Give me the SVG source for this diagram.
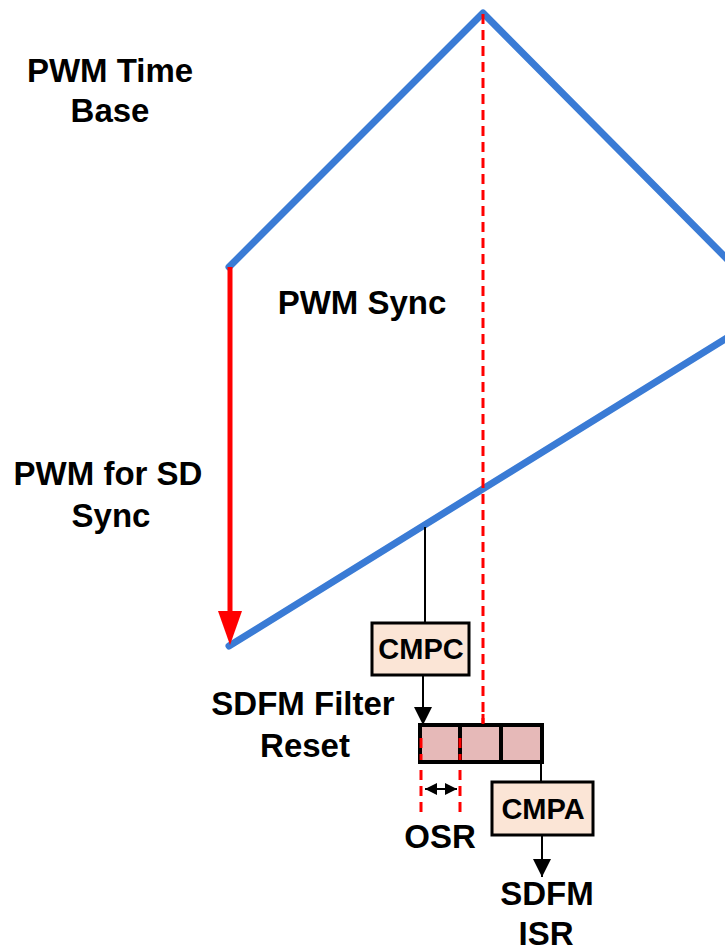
<svg xmlns="http://www.w3.org/2000/svg" width="725" height="949" viewBox="0 0 725 949">
<style>
.t{font-family:"Liberation Sans",Arial,sans-serif;font-weight:bold;font-size:33px;fill:#000;text-anchor:middle}
.b{font-family:"Liberation Sans",Arial,sans-serif;font-weight:bold;font-size:29px;fill:#000;text-anchor:middle}
.blue{stroke:#3a7bd5;stroke-width:7;fill:none;stroke-linecap:round;stroke-linejoin:round}
.dash{stroke:#ff0000;stroke-width:3;stroke-dasharray:10 6;fill:none}
.wire{stroke:#000;stroke-width:2;fill:none}
.reg{fill:#fbe5d6;stroke:#000;stroke-width:3}
.cell{fill:#e6b9b8;stroke:#000;stroke-width:4}
</style>
<defs>
<marker id="ah" viewBox="0 0 18 18" refX="18" refY="9" markerWidth="18" markerHeight="18" markerUnits="userSpaceOnUse" orient="auto">
<path d="M0,0 L18,9 L0,18 Z" fill="#000"/>
</marker>
<marker id="sm" viewBox="0 0 12 12" refX="12" refY="6" markerWidth="12" markerHeight="12" markerUnits="userSpaceOnUse" orient="auto-start-reverse">
<path d="M0,0 L12,6 L0,12 Z" fill="#000"/>
</marker>
</defs>
<g id="connectors">
<polyline class="blue" points="229,267 483,13 730,262"/>
<line class="blue" x1="229" y1="646" x2="730" y2="336"/>
<line x1="230" y1="267" x2="230" y2="615" stroke="#ff0000" stroke-width="5"/>
<path d="M218,611 L242,611 L230,645 Z" fill="#ff0000"/>
<line class="dash" x1="483" y1="14" x2="483" y2="726"/>
<line class="wire" x1="425" y1="527" x2="425" y2="623"/>
<line class="wire" x1="423" y1="675" x2="423" y2="725" marker-end="url(#ah)"/>
<line class="wire" x1="541" y1="763" x2="541" y2="782"/>
<line class="wire" x1="542" y1="835" x2="542" y2="877" marker-end="url(#ah)"/>
<line class="dash" x1="421" y1="738" x2="421" y2="814"/>
<line class="dash" x1="460" y1="738" x2="460" y2="814"/>
<line class="wire" x1="425" y1="789" x2="457" y2="789" marker-start="url(#sm)" marker-end="url(#sm)"/>
</g>
<g id="filter">
<rect class="cell" x="420" y="725" width="40" height="37"/>
<rect class="cell" x="460" y="725" width="41" height="37"/>
<rect class="cell" x="501" y="725" width="41" height="37"/>
<line class="dash" x1="483" y1="714" x2="483" y2="726"/>
<line x1="421" y1="738" x2="421" y2="760" stroke="#ff0000" stroke-width="3" stroke-dasharray="10 6"/>
<line x1="460" y1="738" x2="460" y2="760" stroke="#ff0000" stroke-width="3" stroke-dasharray="10 6"/>
</g>
<g id="cmpc">
<rect class="reg" x="372" y="623" width="97" height="52"/>
<text class="b" x="421" y="659">CMPC</text>
</g>
<g id="cmpa">
<rect class="reg" x="492" y="782" width="101" height="53"/>
<text class="b" x="543" y="819">CMPA</text>
</g>
<g id="labels">
<text class="t" x="110" y="82">PWM Time</text>
<text class="t" x="110" y="122">Base</text>
<text class="t" x="362" y="314">PWM Sync</text>
<text class="t" x="108" y="485">PWM for SD</text>
<text class="t" x="111" y="527">Sync</text>
<text class="t" x="303" y="715">SDFM Filter</text>
<text class="t" x="305" y="757">Reset</text>
<text class="t" x="440" y="848">OSR</text>
<text class="t" x="547" y="905">SDFM</text>
<text class="t" x="546" y="945">ISR</text>
</g>
</svg>
